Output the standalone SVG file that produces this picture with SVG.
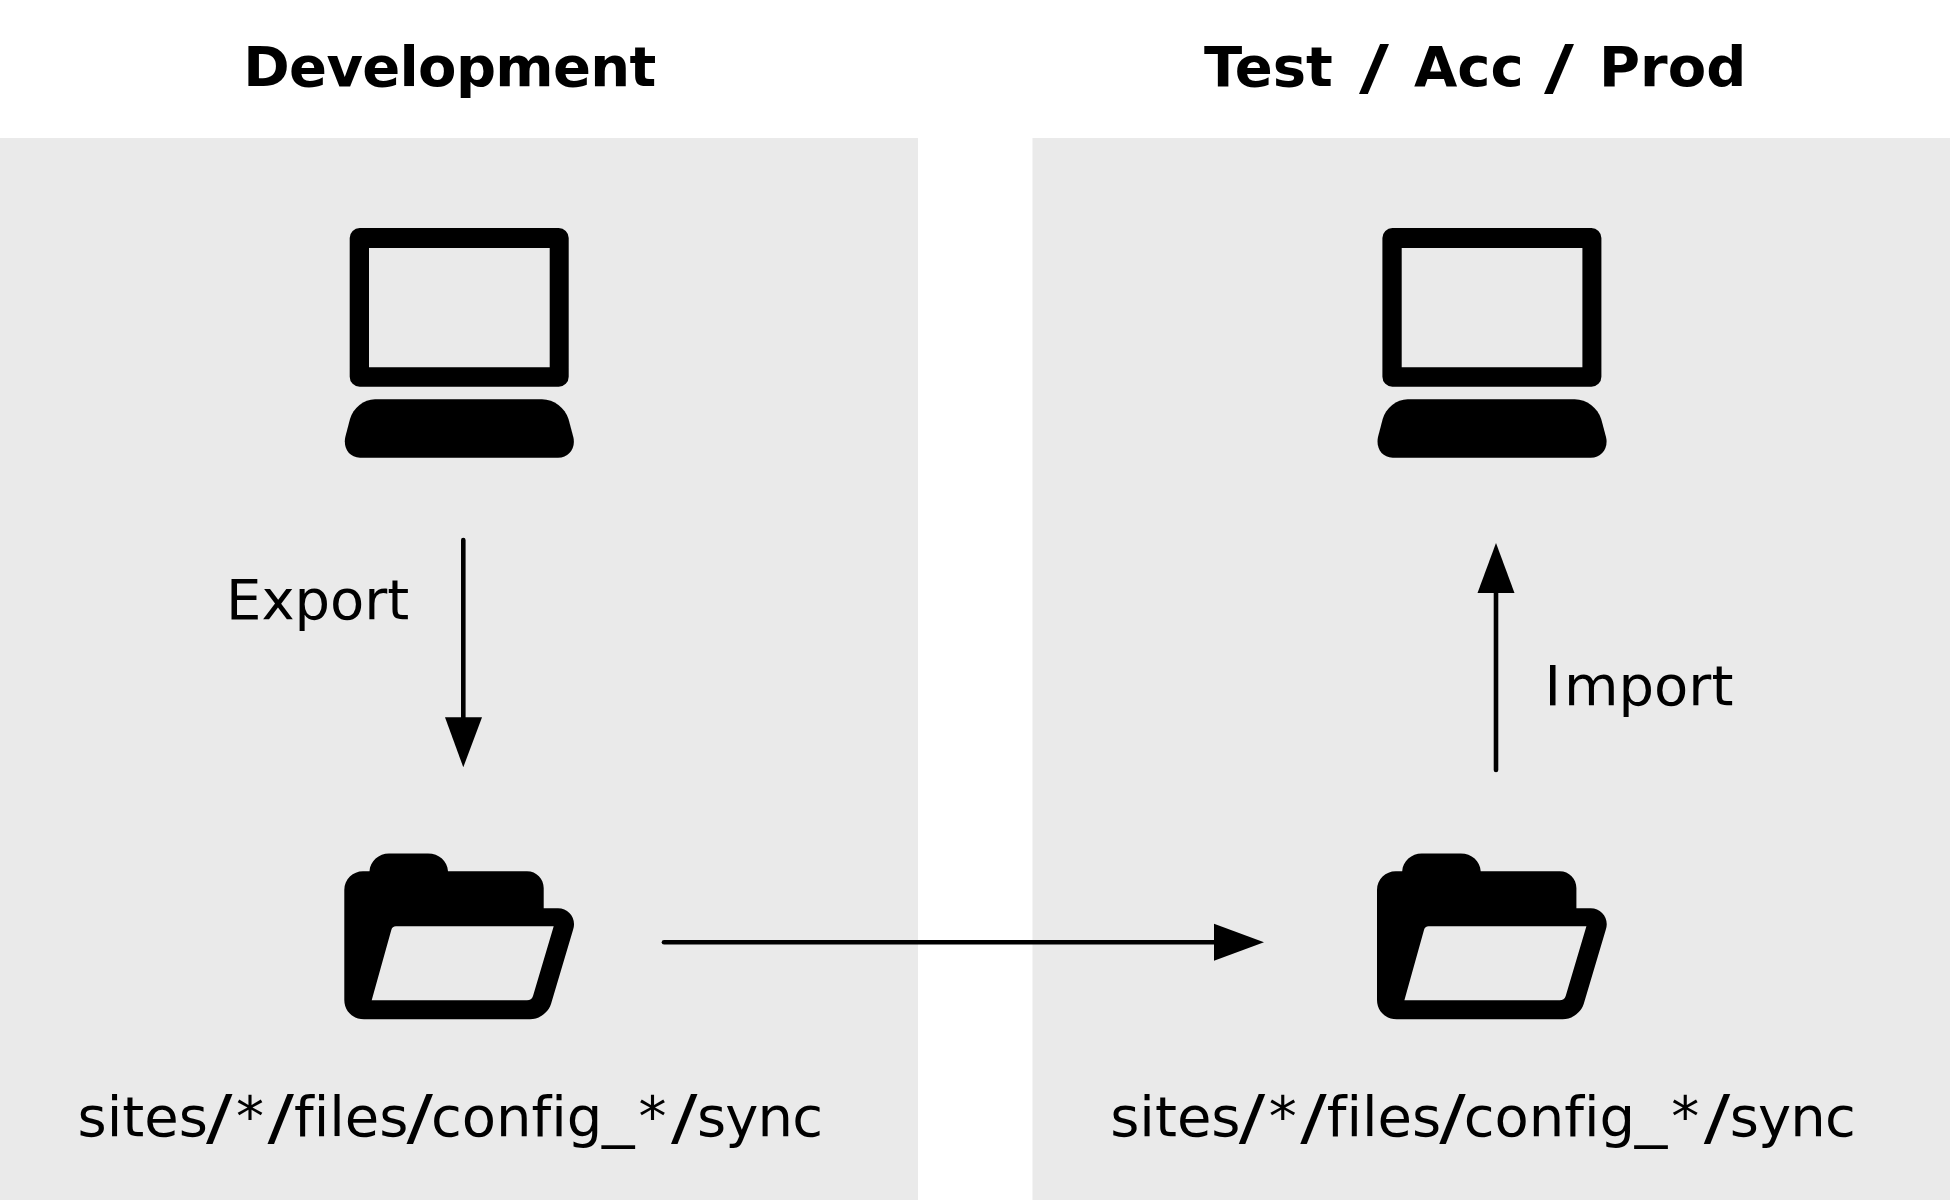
<svg xmlns="http://www.w3.org/2000/svg" width="1950" height="1200" viewBox="0 0 1950 1200">
<style>
text{font-family:"DejaVu Sans",Verdana,sans-serif;fill:#000;font-size:56px;font-variant-ligatures:none}
.h{font-weight:700}
.s{font-size:61px}
.p{fill:#eaeaea}
.l{stroke:#000;stroke-width:4.6;stroke-linecap:round;fill:none}
.a{fill:#000}
</style>
<defs>
<g id="computer">
<path fill-rule="evenodd" d="M359.700 228H558.700A10 10 0 0 1 568.700 238V376.700A10 10 0 0 1 558.700 386.700H359.700A10 10 0 0 1 349.700 376.700V238A10 10 0 0 1 359.700 228ZM369 248V367.300H549.700V248Z"/>
<path d="M375 399.300H542C554 399.300 565 408 568.500 419L573.300 437C576 448 569 457.700 558 457.700H360C349 457.700 343 448 345.300 437L350 419C353 408 364 399.300 375 399.300Z"/>
</g>
<g id="folder">
<path fill-rule="evenodd" d="M369.500 871.300C370 861 379 853.500 389 853.500H428C439 853.500 447.500 861 448 871.300H527C536.500 871.300 543.700 879 543.700 888V908.300H558C569 908.300 577 919 573 930L551 1004C548 1013 539 1019.300 530 1019.300H364C353 1019.300 344.300 1011 344.300 1000V890C344.300 879 353 871.300 363 871.300ZM371.700 1000.300H527C530 1000.300 532 999 533 996L553.700 926.300H396C393.500 926.300 392 927.500 391.300 930Z"/>
</g>
</defs>
<rect class="p" x="0" y="138" width="918" height="1062"/>
<rect class="p" x="1032.500" y="138" width="917.500" height="1062"/>
<text class="h" x="243.300" y="85.700" textLength="413">Development</text>
<text class="h" y="85.700"><tspan x="1204">Test </tspan><tspan class="s" x="1359" y="87.700" textLength="30" lengthAdjust="spacingAndGlyphs">/</tspan><tspan x="1414" y="85.700"> </tspan><tspan x="1414">Acc </tspan><tspan class="s" x="1544" y="87.700" textLength="30" lengthAdjust="spacingAndGlyphs">/</tspan><tspan x="1599" y="85.700"> </tspan><tspan x="1599">Prod</tspan></text>
<g id="connectors">
<path class="l" d="M463.300 540V720"/>
<polygon class="a" points="445,717.300 482,717.300 463.300,767.300"/>
<path class="l" d="M1496 770V590"/>
<polygon class="a" points="1477.500,593 1514.500,593 1496,543"/>
<path class="l" d="M664 942.300H1220"/>
<polygon class="a" points="1214,923.800 1214,960.800 1264,942.300"/>
</g>
<g id="dev-computer"><use href="#computer"/></g>
<g id="target-computer"><use href="#computer" x="1032.700"/></g>
<g id="dev-folder"><use href="#folder"/>
<text y="1136"><tspan x="77.500">sites</tspan><tspan class="s" x="206" y="1138" textLength="26.500" lengthAdjust="spacingAndGlyphs">/</tspan><tspan x="236" y="1136">*</tspan><tspan class="s" x="267.500" y="1138" textLength="26.500" lengthAdjust="spacingAndGlyphs">/</tspan><tspan x="294" y="1136">files</tspan><tspan class="s" x="406.500" y="1138" textLength="26.500" lengthAdjust="spacingAndGlyphs">/</tspan><tspan x="431" y="1136">config</tspan><tspan x="602" textLength="32.500" lengthAdjust="spacingAndGlyphs">_</tspan><tspan x="638.500">*</tspan><tspan class="s" x="671" y="1138" textLength="26.500" lengthAdjust="spacingAndGlyphs">/</tspan><tspan x="697" y="1136" textLength="126">sync</tspan></text></g>
<g id="target-folder"><use href="#folder" x="1032.700"/>
<text y="1136"><tspan x="1110.200">sites</tspan><tspan class="s" x="1238.700" y="1138" textLength="26.500" lengthAdjust="spacingAndGlyphs">/</tspan><tspan x="1268.700" y="1136">*</tspan><tspan class="s" x="1300.200" y="1138" textLength="26.500" lengthAdjust="spacingAndGlyphs">/</tspan><tspan x="1326.700" y="1136">files</tspan><tspan class="s" x="1439.200" y="1138" textLength="26.500" lengthAdjust="spacingAndGlyphs">/</tspan><tspan x="1463.700" y="1136">config</tspan><tspan x="1634.700" textLength="32.500" lengthAdjust="spacingAndGlyphs">_</tspan><tspan x="1671.200">*</tspan><tspan class="s" x="1703.700" y="1138" textLength="26.500" lengthAdjust="spacingAndGlyphs">/</tspan><tspan x="1729.700" y="1136" textLength="126">sync</tspan></text></g>
<text x="226" y="619">Export</text>
<text y="705"><tspan x="1544.400">I</tspan><tspan x="1564">mport</tspan></text>
</svg>
